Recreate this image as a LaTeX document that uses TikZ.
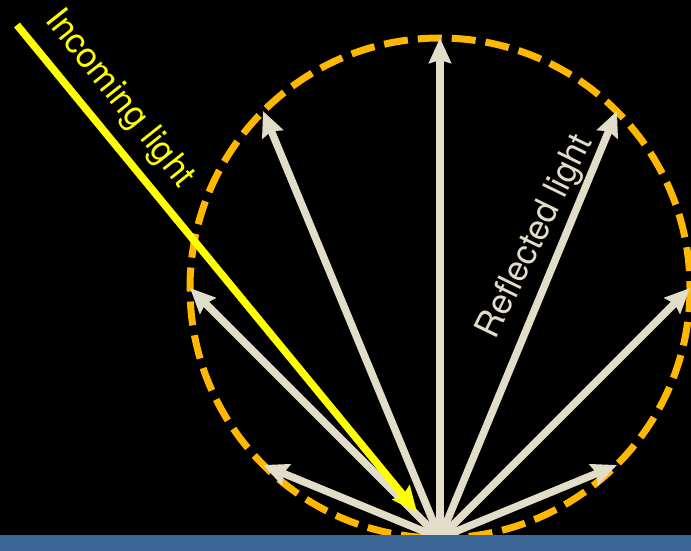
\documentclass[tikz,border=0pt]{standalone}
\usepackage{fontspec}
\setmainfont{TeX Gyre Heros}
\usepackage{tikz}
\usetikzlibrary{arrows.meta,positioning,calc}
\definecolor{beam}{HTML}{E1DDC9}
\definecolor{rim}{HTML}{FFB800}
\definecolor{sun}{HTML}{FFFF00}
\definecolor{floor}{HTML}{3A6595}
\tikzset{
  >={Stealth[length=25pt,width=22pt,inset=3pt]},
  every node/.style={font=\fontsize{35}{42}\selectfont,inner sep=0pt},
  ray/.style={->,line width=7.5pt,draw=beam},
  inray/.style={->,line width=7.5pt,draw=sun},
  rimline/.style={line width=7pt,draw=rim,dash pattern=on 24pt off 10pt},
  raylabel/.style={text=beam},
  inlabel/.style={text=sun}
}
\begin{document}
\begin{tikzpicture}[x=1pt,y=-1pt]
  \fill[black] (0,0) rectangle (691,551);
  \useasboundingbox (0,0) rectangle (691,551);

  \coordinate (ctr) at (440,288);
  \coordinate (hit) at (440,538);
  \coordinate (src) at (17,25);
  \coordinate (inend) at (417,512);
  \coordinate (r0) at ($(ctr)+(250,0)$);
  \coordinate (r45) at ($(ctr)+(177,-177)$);
  \coordinate (r90) at ($(ctr)+(0,-250)$);
  \coordinate (r135) at ($(ctr)+(-177,-177)$);
  \coordinate (r180) at ($(ctr)+(-250,0)$);
  \coordinate (r225) at ($(ctr)+(-177,177)$);
  \coordinate (r315) at ($(ctr)+(177,177)$);

  \draw[rimline] (ctr) circle (250);

  \draw[ray] (hit)--(r0);
  \draw[ray] (hit)--(r45);
  \draw[ray] (hit)--(r90);
  \draw[ray] (hit)--(r135);
  \draw[ray] (hit)--(r180);
  \draw[ray] (hit)--(r225);
  \draw[ray] (hit)--(r315);

  \draw[inray] (src)--(inend);

  \fill[floor] (0,535) rectangle (691,551);

  \node[inlabel,rotate=-51.5] (inlbl) at (119,99) {Incoming light};
  \node[raylabel,rotate=64] (outlbl) at (536,237) {Reflected light};
\end{tikzpicture}
\end{document}
